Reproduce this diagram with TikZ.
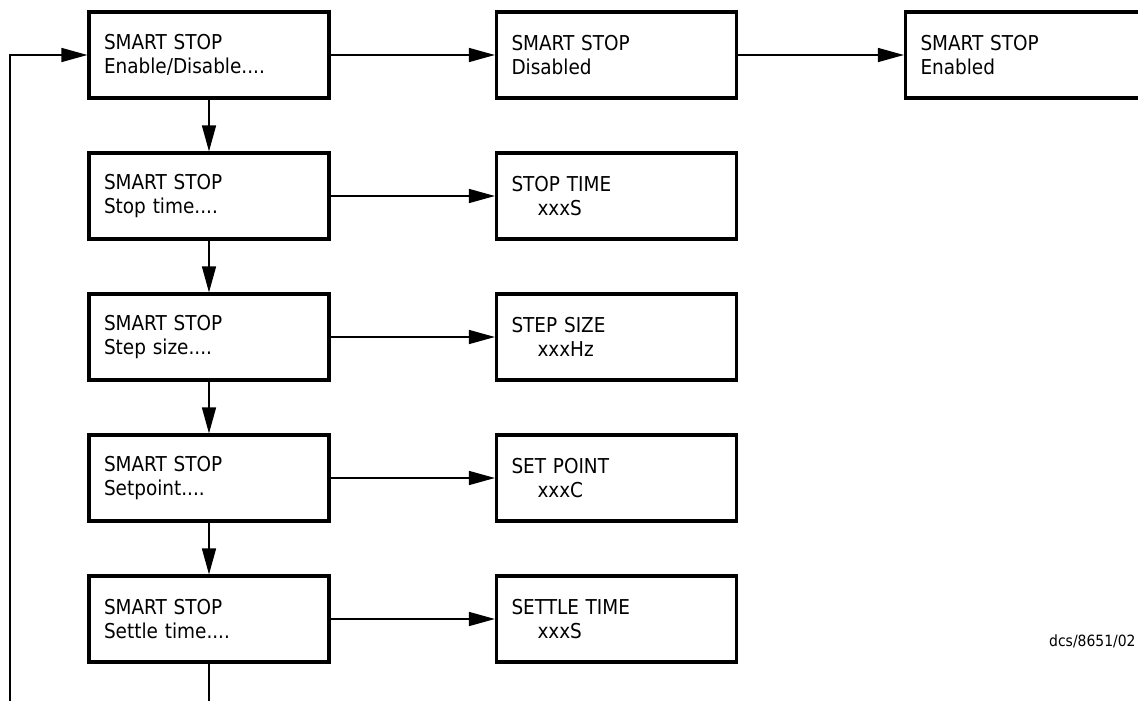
\documentclass[tikz,border=0pt]{standalone}
\usepackage{fontspec}
\setmainfont{DejaVu Sans Condensed}
\usepackage{tikz}
\usetikzlibrary{arrows.meta,positioning}
\tikzset{%
  menubox/.style={draw,line width=3.2pt,rectangle,align=left,
    minimum width=240pt,minimum height=86pt,text width=210pt,
    inner xsep=15pt,font=\fontsize{20.5}{23.5}\selectfont},
  flow/.style={-{Triangle[length=26pt,width=14pt]},line width=1.5pt},
  plainflow/.style={line width=1.5pt}
}
\newcommand{\valind}{\hspace*{26pt}}

\begin{document}
\begin{tikzpicture}[x=1pt,y=-1pt]
      \useasboundingbox (0,0) rectangle (1138,701);
      \clip (0,0) rectangle (1138,701);
      \node[menubox] (enable) at (209,55) {SMART STOP\\Enable/Disable....};
      \node[menubox] (stoptime) at (209,196) {SMART STOP\\Stop time....};
      \node[menubox] (stepsize) at (209,337) {SMART STOP\\Step size....};
      \node[menubox] (setpoint) at (209,478) {SMART STOP\\Setpoint....};
      \node[menubox] (settle) at (209,619) {SMART STOP\\Settle time....};
      \node[menubox] (disabled) at (616.5,55) {SMART STOP\\Disabled};
      \node[menubox] (enabled) at (1025.5,55) {SMART STOP\\Enabled};
      \node[menubox] (stopval) at (616.5,196) {STOP TIME\\\valind xxxS};
      \node[menubox] (stepval) at (616.5,337) {STEP SIZE\\\valind xxxHz};
      \node[menubox] (pointval) at (616.5,478) {SET POINT\\\valind xxxC};
      \node[menubox] (settleval) at (616.5,619) {SETTLE TIME\\\valind xxxS};
      \node[anchor=base west,inner sep=0pt,font=\fontsize{15.5}{19}\selectfont]
        (docref) at (1049,646) {dcs/8651/02};
      \coordinate (loopin) at (10,701);
      \coordinate (loopout) at (209,701);
      \draw[flow] (enable) -- (disabled);
      \draw[flow] (disabled) -- (enabled);
      \draw[flow] (enable) -- (stoptime);
      \draw[flow] (stoptime) -- (stepsize);
      \draw[flow] (stepsize) -- (setpoint);
      \draw[flow] (setpoint) -- (settle);
      \draw[flow] (stoptime) -- (stopval);
      \draw[flow] (stepsize) -- (stepval);
      \draw[flow] (setpoint) -- (pointval);
      \draw[flow] (settle) -- (settleval);
      \draw[plainflow] (settle) -- (loopout);
      \draw[flow] (loopin) |- (enable);
    \end{tikzpicture}
\end{document}
